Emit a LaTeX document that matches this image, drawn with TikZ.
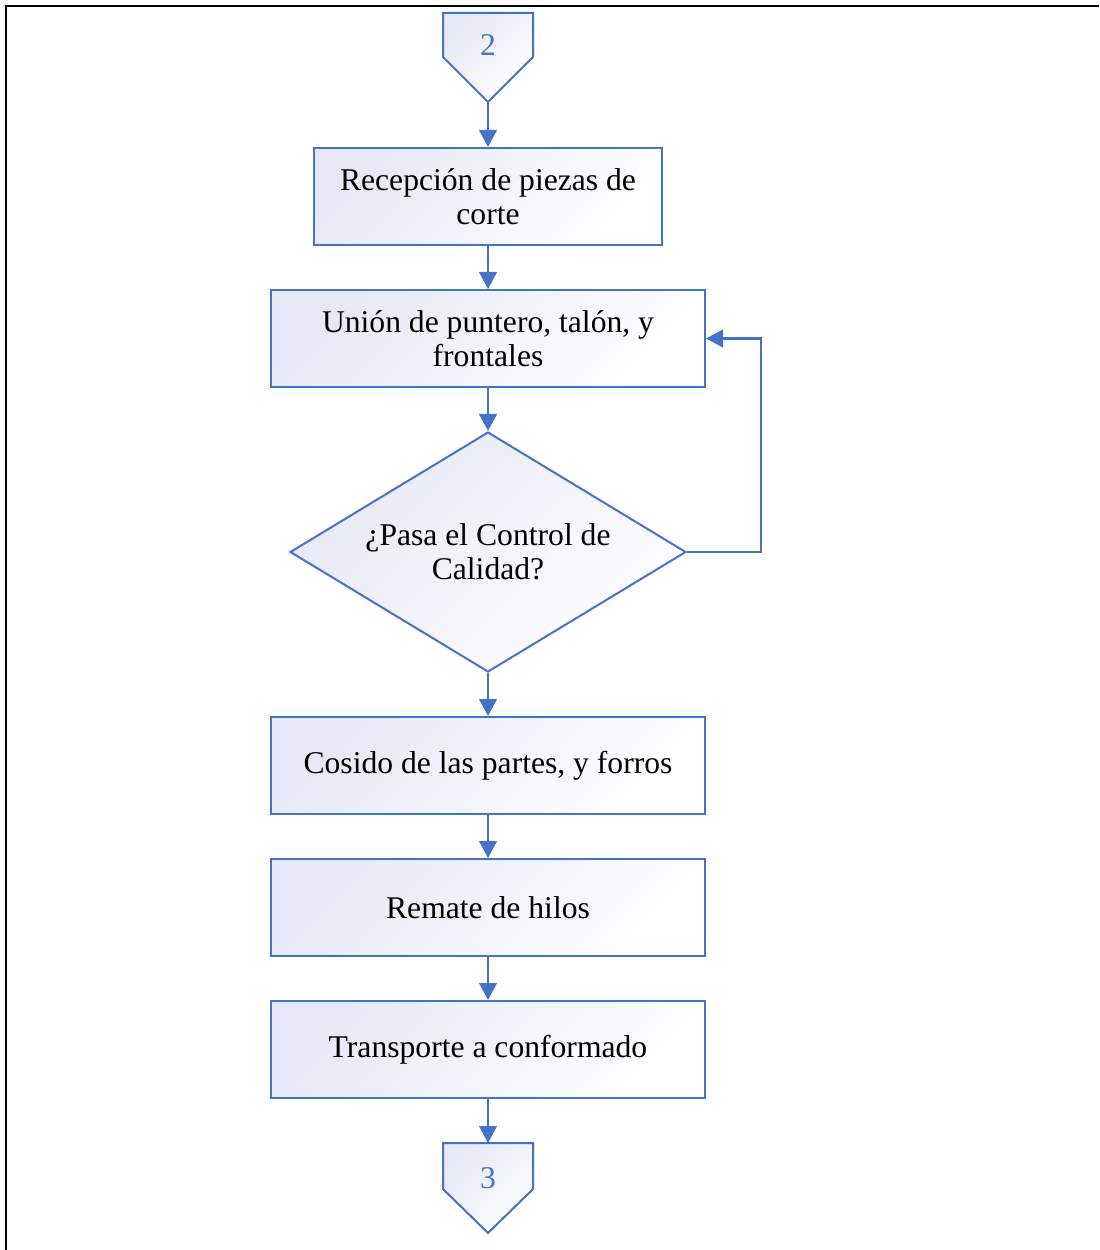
\documentclass[tikz,border=0pt]{standalone}
\usepackage{fontspec}
\setmainfont{Liberation Serif}
\usetikzlibrary{shapes.geometric,arrows.meta}
\definecolor{flowblue}{HTML}{4472C4}
\definecolor{lav}{HTML}{E6E8F6}
\tikzset{
  shade/.style={top color=lav,bottom color=white,shading angle=45},
  procbox/.style={draw=flowblue,line width=0.8pt,shade,rectangle,inner sep=0pt,
    minimum width=173.6pt,minimum height=38.8pt,align=center,
    font=\fontsize{12.65}{13.6}\selectfont},
  decbox/.style={draw=flowblue,line width=0.8pt,shade,diamond,aspect=1.65,inner sep=0pt,
    minimum width=158.4pt,minimum height=96pt,align=center,
    font=\fontsize{12.65}{13.6}\selectfont},
  arr/.style={draw=flowblue,line width=1pt,-{Triangle[length=6.8pt,width=7pt]}},
  offpage/.style={draw=flowblue,line width=0.8pt,shade},
  numtxt/.style={text=flowblue,font=\fontsize{12.65}{13.6}\selectfont,inner sep=0pt}
}
\begin{document}
\begin{tikzpicture}[x=0.4pt,y=-0.4pt]
\useasboundingbox (0,0) rectangle (1099,1250);
% frame (top and left only)
\draw[black,line width=0.8pt] (1099,6) -- (6,6) -- (6,1250);
% off-page connector 2
\path[offpage] (443,13) -- (533,13) -- (533,57) -- (488,102) -- (443,57) -- cycle;
\node[numtxt] (c2) at (488,45) {2};
\coordinate (c2tip) at (488,102);
% boxes
\node[procbox,minimum width=139.2pt] (b1) at (488,196.5) {Recepción de piezas de\\corte};
\node[procbox] (b2) at (488,338.5) {Unión de puntero, talón, y\\frontales};
\node[decbox] (d) at (488,552) {¿Pasa el Control de\\Calidad?};
\node[procbox] (b3) at (488,765.5) {Cosido de las partes, y forros};
\node[procbox] (b4) at (488,907.5) {Remate de hilos};
\node[procbox] (b5) at (488,1049.5) {Transporte a conformado};
% off-page connector 3
\path[offpage] (443,1143) -- (533,1143) -- (533,1189) -- (488,1233) -- (443,1189) -- cycle;
\node[numtxt] (c3) at (488,1178) {3};
\coordinate (c3top) at (488,1143);
% connectors
\draw[arr] (c2tip) -- (b1.north);
\draw[arr] (b1.south) -- (b2.north);
\draw[arr] (b2.south) -- (d.north);
\coordinate (lp) at (761,552);
\draw[arr] (d.east) -- (lp) |- (b2.east);
\draw[arr] (d.south) -- (b3.north);
\draw[arr] (b3.south) -- (b4.north);
\draw[arr] (b4.south) -- (b5.north);
\draw[arr] (b5.south) -- (c3top);
\end{tikzpicture}
\end{document}
